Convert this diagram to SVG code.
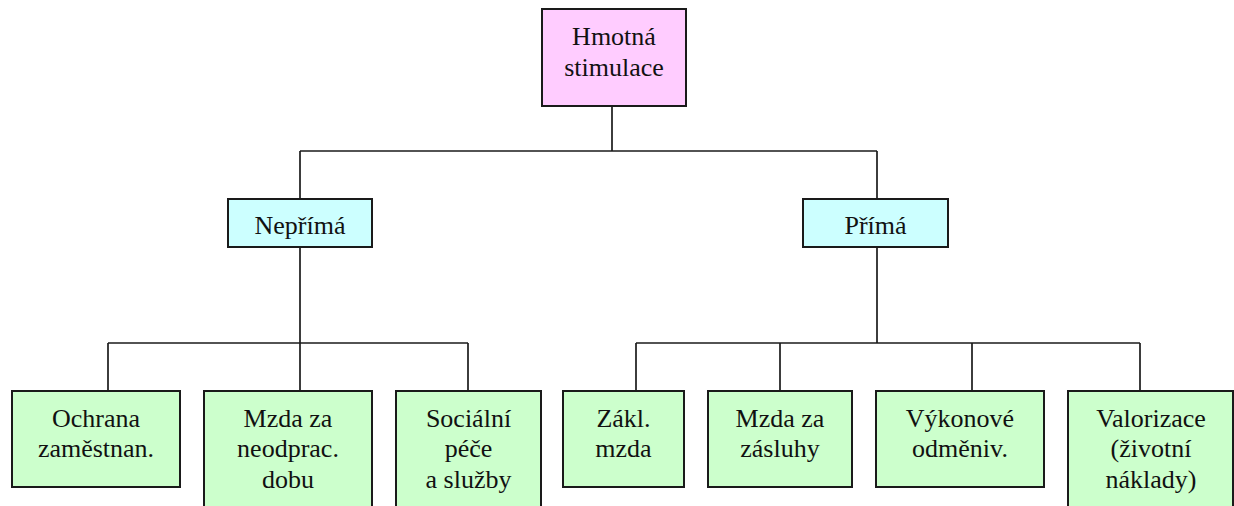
<svg xmlns="http://www.w3.org/2000/svg" width="1234" height="506" viewBox="0 0 1234 506">
<style>
.box{stroke:#1a1a1a;stroke-width:2}
.root{fill:#FFCCFF}
.mid{fill:#CCFFFF}
.leaf{fill:#CCFFCC}
text{font-family:"Liberation Serif","Times New Roman",serif;font-size:26px;fill:#111;text-anchor:middle}
.conn line{stroke:#1a1a1a;stroke-width:1.7}
</style>
<rect width="1234" height="506" fill="#ffffff"/>
<g class="conn" id="connectors">
<line x1="612" y1="106" x2="612" y2="151"/>
<line x1="300" y1="151" x2="877" y2="151"/>
<line x1="300" y1="151" x2="300" y2="199"/>
<line x1="877" y1="151" x2="877" y2="199"/>
<line x1="300" y1="247" x2="300" y2="343"/>
<line x1="108" y1="343" x2="468" y2="343"/>
<line x1="108" y1="343" x2="108" y2="391"/>
<line x1="300" y1="343" x2="300" y2="391"/>
<line x1="468" y1="343" x2="468" y2="391"/>
<line x1="877" y1="247" x2="877" y2="343"/>
<line x1="636" y1="343" x2="1140" y2="343"/>
<line x1="636" y1="343" x2="636" y2="391"/>
<line x1="780" y1="343" x2="780" y2="391"/>
<line x1="972" y1="343" x2="972" y2="391"/>
<line x1="1140" y1="343" x2="1140" y2="391"/>
</g>
<g id="root">
<rect class="box root" x="542" y="9" width="144" height="97"/>
<text x="614" y="45">Hmotná</text>
<text x="614" y="76">stimulace</text>
</g>
<g id="neprima">
<rect class="box mid" x="228" y="199" width="144" height="48"/>
<text x="300" y="234">Nepřímá</text>
</g>
<g id="prima">
<rect class="box mid" x="803" y="199" width="145" height="48"/>
<text x="875.5" y="234">Přímá</text>
</g>
<g id="ochrana">
<rect class="box leaf" x="12" y="391" width="168" height="96"/>
<text x="96" y="427">Ochrana</text>
<text x="96" y="457">zaměstnan.</text>
</g>
<g id="mzda-neodprac">
<rect class="box leaf" x="204" y="391" width="168" height="130"/>
<text x="288" y="427">Mzda za</text>
<text x="288" y="457">neodprac.</text>
<text x="288" y="488">dobu</text>
</g>
<g id="socialni">
<rect class="box leaf" x="396" y="391" width="145" height="130"/>
<text x="468.5" y="427">Sociální</text>
<text x="468.5" y="457">péče</text>
<text x="468.5" y="488">a služby</text>
</g>
<g id="zakl">
<rect class="box leaf" x="563" y="391" width="121" height="96"/>
<text x="623.5" y="427">Zákl.</text>
<text x="623.5" y="457">mzda</text>
</g>
<g id="zasluhy">
<rect class="box leaf" x="708" y="391" width="144" height="96"/>
<text x="780" y="427">Mzda za</text>
<text x="780" y="457">zásluhy</text>
</g>
<g id="vykonove">
<rect class="box leaf" x="876" y="391" width="168" height="96"/>
<text x="960" y="427">Výkonové</text>
<text x="960" y="457">odměniv.</text>
</g>
<g id="valorizace">
<rect class="box leaf" x="1068" y="391" width="165" height="130"/>
<text x="1151" y="427">Valorizace</text>
<text x="1151" y="457">(životní</text>
<text x="1151" y="488">náklady)</text>
</g>
</svg>
